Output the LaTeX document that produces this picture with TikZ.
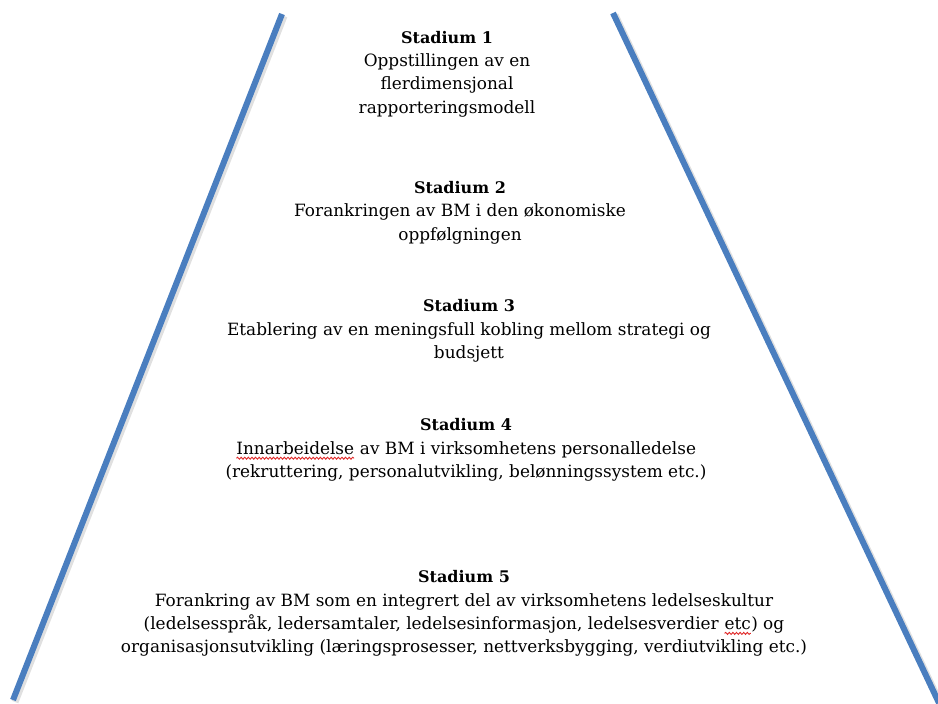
\documentclass[tikz,border=0pt]{standalone}
\usepackage{fontspec}
\usetikzlibrary{decorations.pathmorphing}
\setmainfont{DejaVu Serif}
\definecolor{edgeblue}{HTML}{4A7EBF}
\definecolor{spellred}{HTML}{E02828}
% red wavy underline for words flagged by the spell checker
\newcommand{\spellmark}[1]{\begin{tikzpicture}[baseline=(sw.base), x=1pt, y=1pt]
  \node[inner sep=0pt, outer sep=0pt, anchor=base] (sw) {#1};
  \draw[spellred, line width=0.9pt, decorate,
        decoration={snake, amplitude=1pt, segment length=3.6pt}]
    ([yshift=-4pt]sw.base west) -- ([yshift=-4pt]sw.base east);
\end{tikzpicture}}
% stage headings
\newcommand{\stagehead}[1]{{\fontsize{16}{23.4}\selectfont\bfseries #1}}
\tikzset{
  side/.style={line width=6pt, draw=edgeblue},
  sideshadow/.style={line width=7pt, draw=black, opacity=0.12},
  stage/.style={align=center, inner sep=0pt, text=black,
                font=\fontsize{16.9}{23.4}\selectfont}
}
\begin{document}
\begin{tikzpicture}[x=1pt, y=-1pt]
  \useasboundingbox (0,0) rectangle (938,704);
  % side walls of the pyramid
  \coordinate (lt) at (282,14);
  \coordinate (lb) at (13,700);
  \coordinate (rt) at (613,13);
  \coordinate (rb) at (939,703);
  \draw[sideshadow] ([shift={(2,2)}]lt) -- ([shift={(2,2)}]lb);
  \draw[sideshadow] ([shift={(2,2)}]rt) -- ([shift={(2,2)}]rb);
  \draw[side] (lt) -- (lb);
  \draw[side] (rt) -- (rb);
  % the five stages
  \node[stage] (s1) at (447,74) {\stagehead{Stadium 1}\\Oppstillingen av en\\flerdimensjonal\\rapporteringsmodell};
  \node[stage] (s2) at (460,212.5) {\stagehead{Stadium 2}\\Forankringen av BM i den økonomiske\\oppfølgningen};
  \node[stage] (s3) at (469,331) {\stagehead{Stadium 3}\\Etablering av en meningsfull kobling mellom strategi og\\budsjett};
  \node[stage] (s4) at (466,450) {\stagehead{Stadium 4}\\\spellmark{Innarbeidelse} av BM i virksomhetens personalledelse\\(rekruttering, personalutvikling, belønningssystem etc.)};
  \node[stage] (s5) at (464,613.5) {\stagehead{Stadium 5}\\Forankring av BM som en integrert del av virksomhetens ledelseskultur\\(ledelsesspråk, ledersamtaler, ledelsesinformasjon, ledelsesverdier \spellmark{etc}) og\\organisasjonsutvikling (læringsprosesser, nettverksbygging, verdiutvikling etc.)};
\end{tikzpicture}
\end{document}
